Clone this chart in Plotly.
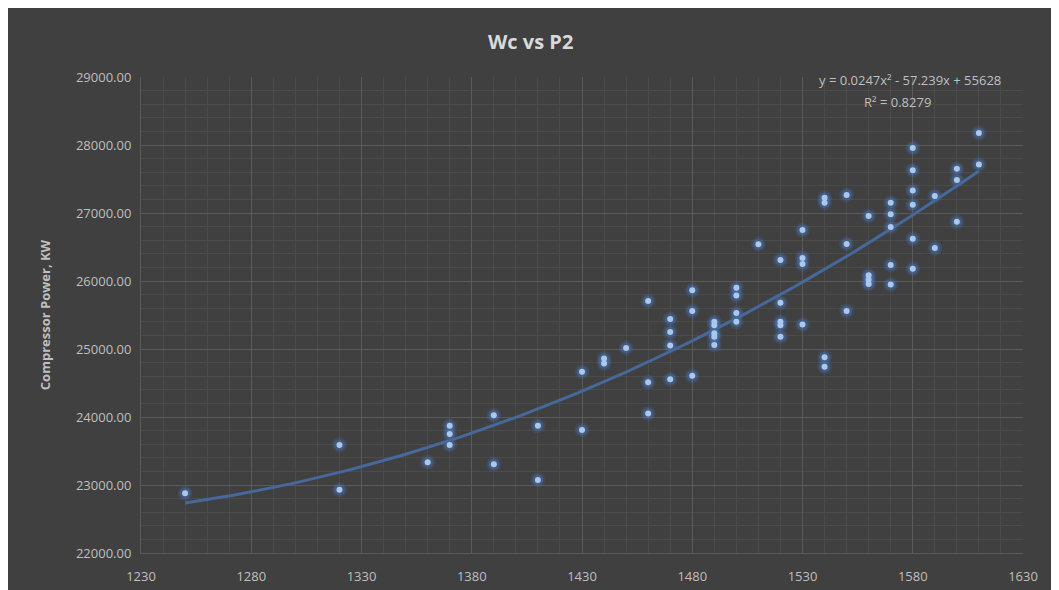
import numpy as np
import plotly.graph_objects as go

# P2 values (x) and compressor power Wc (y)
p2 = [1250,
      1320, 1320,
      1360,
      1370, 1370, 1370,
      1390, 1390,
      1410, 1410,
      1430, 1430,
      1440, 1440,
      1450,
      1460, 1460, 1460,
      1470, 1470, 1470, 1470,
      1480, 1480, 1480,
      1490, 1490, 1490, 1490, 1490,
      1500, 1500, 1500, 1500,
      1510,
      1520, 1520, 1520, 1520, 1520,
      1530, 1530, 1530, 1530,
      1540, 1540, 1540, 1540,
      1550, 1550, 1550,
      1560, 1560, 1560, 1560,
      1570, 1570, 1570, 1570, 1570,
      1580, 1580, 1580, 1580, 1580, 1580,
      1590, 1590,
      1600, 1600, 1600,
      1610, 1610]
wc = [22880,
      23590, 22930,
      23335,
      23870, 23750, 23590,
      24025, 23305,
      23870, 23075,
      24665, 23810,
      24860, 24785,
      25015,
      25705, 24510, 24050,
      25440, 25250, 25050, 24555,
      25865, 25560, 24605,
      25400, 25350, 25230, 25180, 25060,
      25900, 25785, 25530, 25400,
      26540,
      26310, 25680, 25400, 25350, 25180,
      26750, 26340, 26250, 25360,
      27225, 27150, 24880, 24740,
      27265, 26545, 25560,
      26955, 26085, 26020, 25955,
      27150, 26980, 26795, 26235, 25950,
      27955, 27630, 27330, 27120, 26620, 26180,
      27250, 26485,
      27650, 27485, 26870,
      28175, 27715]

title_text = "Wc vs P2"
y_title = "Compressor Power, KW"
eq_text = "y = 0.0247x² - 57.239x + 55628"
r2_text = "R² = 0.8279"

x_ticks = [1230, 1280, 1330, 1380, 1430, 1480, 1530, 1580, 1630]

# polynomial (order 2) trendline fitted to the data, as in the source chart
coef = np.polyfit(p2, wc, 2)
tx = np.linspace(min(p2), max(p2), 100)
ty = np.polyval(coef, tx)

# page body has an 8px offset; size the figure to fill the window from there
OFF = 8
W, H = 1059 - OFF, 590 - OFF
l, r, t, b = 141 - OFF, 36, 77 - OFF, 37
pw, ph = W - l - r, H - t - b


def px2paper(px, py):
    return (px - OFF - l) / pw, 1 - (py - OFF - t) / ph


bg = "#404040"
fig = go.Figure()
# glow halo
fig.add_trace(go.Scatter(x=p2, y=wc, mode="markers",
                         marker=dict(size=15, color="rgba(70,120,200,0.18)", line=dict(width=0)),
                         hoverinfo="skip", showlegend=False))
fig.add_trace(go.Scatter(x=p2, y=wc, mode="markers",
                         marker=dict(size=11, color="rgba(80,130,210,0.30)", line=dict(width=0)),
                         hoverinfo="skip", showlegend=False))
fig.add_trace(go.Scatter(x=tx, y=ty, mode="lines",
                         line=dict(color="#46689a", width=3), showlegend=False))
fig.add_trace(go.Scatter(x=p2, y=wc, mode="markers",
                         marker=dict(size=6, color="#a9c8ee", line=dict(width=0)),
                         showlegend=False))

ex, ey = px2paper(910, 80)
rx, ry = px2paper(897, 102)
tx_, ty_ = px2paper(530, 41)

fig.update_layout(
    width=W, height=H,
    paper_bgcolor=bg, plot_bgcolor=bg,
    margin=dict(l=l, r=r, t=t, b=b, autoexpand=False),
    font=dict(family="Open Sans, Noto Sans, sans-serif", color="#bfbfbf", size=13),
    xaxis=dict(range=[1230, 1630], tickvals=x_ticks, showgrid=True, automargin=False,
               gridcolor="#5a5a5a", gridwidth=1,
               minor=dict(dtick=10, showgrid=True, gridcolor="#4b4b4b", gridwidth=1),
               showline=True, linecolor="#5a5a5a", linewidth=1, mirror=False,
               zeroline=False, ticks="", tickfont=dict(size=13, color="#bfbfbf"),
               ticklabelstandoff=11),
    yaxis=dict(range=[22000, 29000], dtick=1000, tickformat=".2f", showgrid=True,
               automargin=False,
               gridcolor="#5a5a5a", gridwidth=1,
               minor=dict(dtick=200, showgrid=True, gridcolor="#4b4b4b", gridwidth=1),
               showline=True, linecolor="#5a5a5a", linewidth=1,
               zeroline=False, ticks="", tickfont=dict(size=13, color="#bfbfbf"),
               ticklabelstandoff=6,
               title=dict(text="<b>" + y_title + "</b>", standoff=22,
                          font=dict(size=13, color="#bfbfbf"))),
    annotations=[
        dict(text="<b>" + title_text + "</b>", x=tx_, y=ty_, xref="paper", yref="paper",
             showarrow=False, xanchor="center", yanchor="middle",
             font=dict(size=20, color="#d9d9d9")),
        dict(text=eq_text, x=ex, y=ey, xref="paper", yref="paper", showarrow=False,
             xanchor="center", yanchor="middle",
             font=dict(size=13, color="#bfbfbf")),
        dict(text=r2_text, x=rx, y=ry, xref="paper", yref="paper", showarrow=False,
             xanchor="center", yanchor="middle",
             font=dict(size=13, color="#bfbfbf")),
    ],
)
fig.write_html("out.html")
